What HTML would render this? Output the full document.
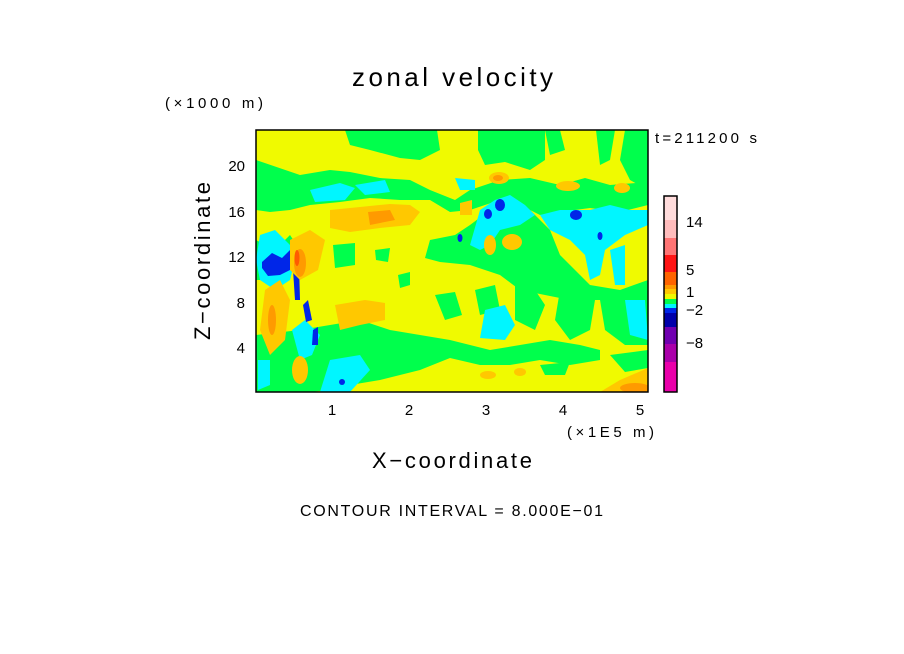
<!DOCTYPE html>
<html><head><style>
html,body{margin:0;padding:0;background:#fff;}
svg{display:block;font-family:"Liberation Sans",sans-serif;}
</style></head><body>
<svg width="904" height="654" viewBox="0 0 904 654" xmlns="http://www.w3.org/2000/svg">
<rect width="904" height="654" fill="#fff"/>
<text x="352" y="86" font-size="26" textLength="201" lengthAdjust="spacing">zonal velocity</text>
<text x="165" y="108" font-size="15" textLength="98" lengthAdjust="spacing">(×1000 m)</text>
<text x="655" y="143" font-size="15" textLength="102" lengthAdjust="spacing">t=211200 s</text>
<defs><clipPath id="c"><rect x="256" y="130" width="392" height="262"/></clipPath></defs>
<g clip-path="url(#c)">
<rect x="256" y="130" width="392" height="262" fill="#f0fa00"/>
<g fill="#00ff4c">
<path d="M345 130 L437 130 L440 150 L420 160 L400 158 L370 150 L350 145 Z"/>
<path d="M478 130 L545 130 L545 160 L530 170 L505 162 L485 165 L478 150 Z"/>
<path d="M545 130 L560 130 L565 150 L550 155 Z"/>
<path d="M596 130 L615 130 L610 160 L600 165 Z"/>
<path d="M625 130 L648 130 L648 190 L630 180 L620 160 Z"/>
<path d="M256 160 L300 175 L330 170 L350 172 L380 178 L410 180 L430 190 L455 200 L470 190 L500 180 L530 178 L560 185 L585 178 L610 185 L648 182 L648 205 L620 212 L590 208 L560 212 L540 215 L520 205 L500 200 L470 210 L450 212 L430 200 L400 200 L370 198 L340 202 L310 205 L290 210 L270 212 L256 210 Z"/>
<path d="M256 240 L275 250 L290 235 L300 250 L290 270 L270 280 L256 280 Z"/>
<path d="M430 240 L455 235 L470 225 L490 210 L510 205 L530 210 L550 230 L560 255 L575 270 L590 285 L620 290 L648 280 L648 315 L620 305 L600 300 L570 300 L545 295 L520 290 L500 275 L470 265 L440 262 L425 258 Z"/>
<path d="M333 245 L355 243 L355 265 L335 268 Z"/>
<path d="M375 250 L390 248 L388 262 L376 260 Z"/>
<path d="M398 275 L410 272 L410 285 L400 288 Z"/>
<path d="M435 295 L455 292 L462 315 L445 320 Z"/>
<path d="M475 290 L495 285 L500 310 L480 315 Z"/>
<path d="M515 285 L535 290 L545 305 L535 330 L515 320 Z"/>
<path d="M560 290 L580 280 L595 300 L590 330 L570 340 L555 320 Z"/>
<path d="M600 300 L620 290 L648 300 L648 345 L625 345 L605 330 Z"/>
<path d="M256 335 L300 330 L330 325 L360 320 L390 330 L420 335 L450 340 L470 345 L490 350 L520 345 L550 340 L580 345 L600 350 L600 360 L570 365 L540 360 L510 365 L480 365 L450 358 L420 370 L400 375 L380 380 L350 385 L330 390 L310 392 L256 392 Z"/>
<path d="M540 365 L570 362 L565 375 L545 375 Z"/>
<path d="M610 355 L648 350 L648 368 L625 372 Z"/>
</g>
<g fill="#00f6ff">
<path d="M260 235 L275 230 L290 245 L295 260 L290 280 L275 290 L260 280 L256 260 Z"/>
<path d="M310 190 L340 183 L355 188 L345 200 L315 202 Z"/>
<path d="M355 185 L385 180 L390 192 L365 195 Z"/>
<path d="M455 178 L475 180 L475 190 L460 190 Z"/>
<path d="M480 210 L495 200 L510 195 L525 205 L535 215 L520 225 L500 230 L490 245 L480 250 L470 245 Z"/>
<path d="M540 215 L560 210 L590 210 L610 205 L630 210 L648 210 L648 225 L625 235 L605 250 L600 275 L590 280 L585 255 L570 240 L550 230 Z"/>
<path d="M610 250 L625 245 L625 285 L615 285 Z"/>
<path d="M485 310 L505 305 L515 325 L505 340 L480 338 Z"/>
<path d="M625 300 L645 300 L648 340 L630 335 Z"/>
<path d="M292 330 L305 320 L320 335 L312 355 L300 360 Z"/>
<path d="M330 360 L360 355 L370 370 L350 392 L320 392 Z"/>
<path d="M258 360 L270 360 L270 385 L258 390 Z"/>
</g>
<g fill="#0026e8">
<path d="M262 262 L272 253 L282 258 L290 250 L290 270 L280 275 L268 276 L262 268 Z"/>
<path d="M293 270 L299 265 L300 300 L295 300 Z"/>
<path d="M303 305 L308 300 L312 320 L306 322 Z"/>
<path d="M313 330 L318 327 L318 345 L312 345 Z"/>
<ellipse cx="500" cy="205" rx="5" ry="6"/>
<ellipse cx="488" cy="214" rx="4" ry="5"/>
<ellipse cx="576" cy="215" rx="6" ry="5"/>
<ellipse cx="460" cy="238" rx="2.5" ry="4"/>
<ellipse cx="600" cy="236" rx="2.5" ry="4"/>
<ellipse cx="342" cy="382" rx="3" ry="3"/>
</g>
<g fill="#ffc800">
<path d="M330 210 L360 207 L390 204 L410 205 L420 212 L410 225 L380 228 L350 232 L330 228 Z"/>
<path d="M290 240 L310 230 L325 240 L318 270 L300 280 L290 270 Z"/>
<path d="M265 290 L280 280 L290 300 L285 340 L270 355 L260 330 Z"/>
<path d="M335 305 L365 300 L385 303 L385 320 L360 325 L340 330 Z"/>
<path d="M460 203 L472 200 L472 215 L460 215 Z"/>
<ellipse cx="499" cy="178" rx="10" ry="6"/>
<ellipse cx="568" cy="186" rx="12" ry="5"/>
<ellipse cx="622" cy="188" rx="8" ry="5"/>
<ellipse cx="490" cy="245" rx="6" ry="10"/>
<ellipse cx="512" cy="242" rx="10" ry="8"/>
<ellipse cx="488" cy="375" rx="8" ry="4"/>
<ellipse cx="520" cy="372" rx="6" ry="4"/>
<path d="M600 392 L620 380 L648 368 L648 392 Z"/>
<ellipse cx="300" cy="370" rx="8" ry="14"/>
</g>
<g fill="#ff9a00">
<path d="M368 212 L390 210 L395 220 L370 225 Z"/>
<ellipse cx="498" cy="178" rx="5" ry="3"/>
<ellipse cx="300" cy="263" rx="6" ry="14"/>
<ellipse cx="272" cy="320" rx="4" ry="15"/>
<ellipse cx="635" cy="388" rx="15" ry="5"/>
</g>
<ellipse cx="297" cy="258" rx="2.5" ry="8" fill="#ff5a00"/>
</g>
<rect x="256" y="130" width="392" height="262" fill="none" stroke="#000" stroke-width="1.5"/>
<g font-size="15">
<text x="245" y="353" text-anchor="end">4</text>
<text x="245" y="308" text-anchor="end">8</text>
<text x="245" y="262" text-anchor="end">12</text>
<text x="245" y="217" text-anchor="end">16</text>
<text x="245" y="171" text-anchor="end">20</text>
<text x="332" y="415" text-anchor="middle">1</text>
<text x="409" y="415" text-anchor="middle">2</text>
<text x="486" y="415" text-anchor="middle">3</text>
<text x="563" y="415" text-anchor="middle">4</text>
<text x="640" y="415" text-anchor="middle">5</text>
<text x="567" y="437" textLength="87" lengthAdjust="spacing">(×1E5 m)</text>
</g>
<text x="372" y="468" font-size="22" textLength="160" lengthAdjust="spacing">X−coordinate</text>
<text transform="translate(210 340) rotate(-90)" font-size="22" textLength="158" lengthAdjust="spacing">Z−coordinate</text>
<text x="300" y="516" font-size="16" textLength="303" lengthAdjust="spacing">CONTOUR INTERVAL = 8.000E−01</text>
<g>
<rect x="664" y="196" width="13" height="24" fill="#ffdcdc"/>
<rect x="664" y="220" width="13" height="18" fill="#ffbcbc"/>
<rect x="664" y="238" width="13" height="17" fill="#ff7474"/>
<rect x="664" y="255" width="13" height="17" fill="#ff1414"/>
<rect x="664" y="272" width="13" height="13" fill="#ff6400"/>
<rect x="664" y="285" width="13" height="4" fill="#ff9a00"/>
<rect x="664" y="289" width="13" height="5" fill="#ffc800"/>
<rect x="664" y="294" width="13" height="5" fill="#f0fa00"/>
<rect x="664" y="299" width="13" height="5" fill="#00ff4c"/>
<rect x="664" y="304" width="13" height="4" fill="#00f6ff"/>
<rect x="664" y="308" width="13" height="5" fill="#0026e8"/>
<rect x="664" y="313" width="13" height="14" fill="#0000aa"/>
<rect x="664" y="327" width="13" height="17" fill="#7000b0"/>
<rect x="664" y="344" width="13" height="18" fill="#aa00aa"/>
<rect x="664" y="362" width="13" height="30" fill="#ea00aa"/>
<rect x="664" y="196" width="13" height="196" fill="none" stroke="#000" stroke-width="1.5"/>
</g>
<g font-size="15">
<text x="686" y="227">14</text>
<text x="686" y="275">5</text>
<text x="686" y="297">1</text>
<text x="686" y="315">−2</text>
<text x="686" y="348">−8</text>
</g>
</svg>
</body></html>
